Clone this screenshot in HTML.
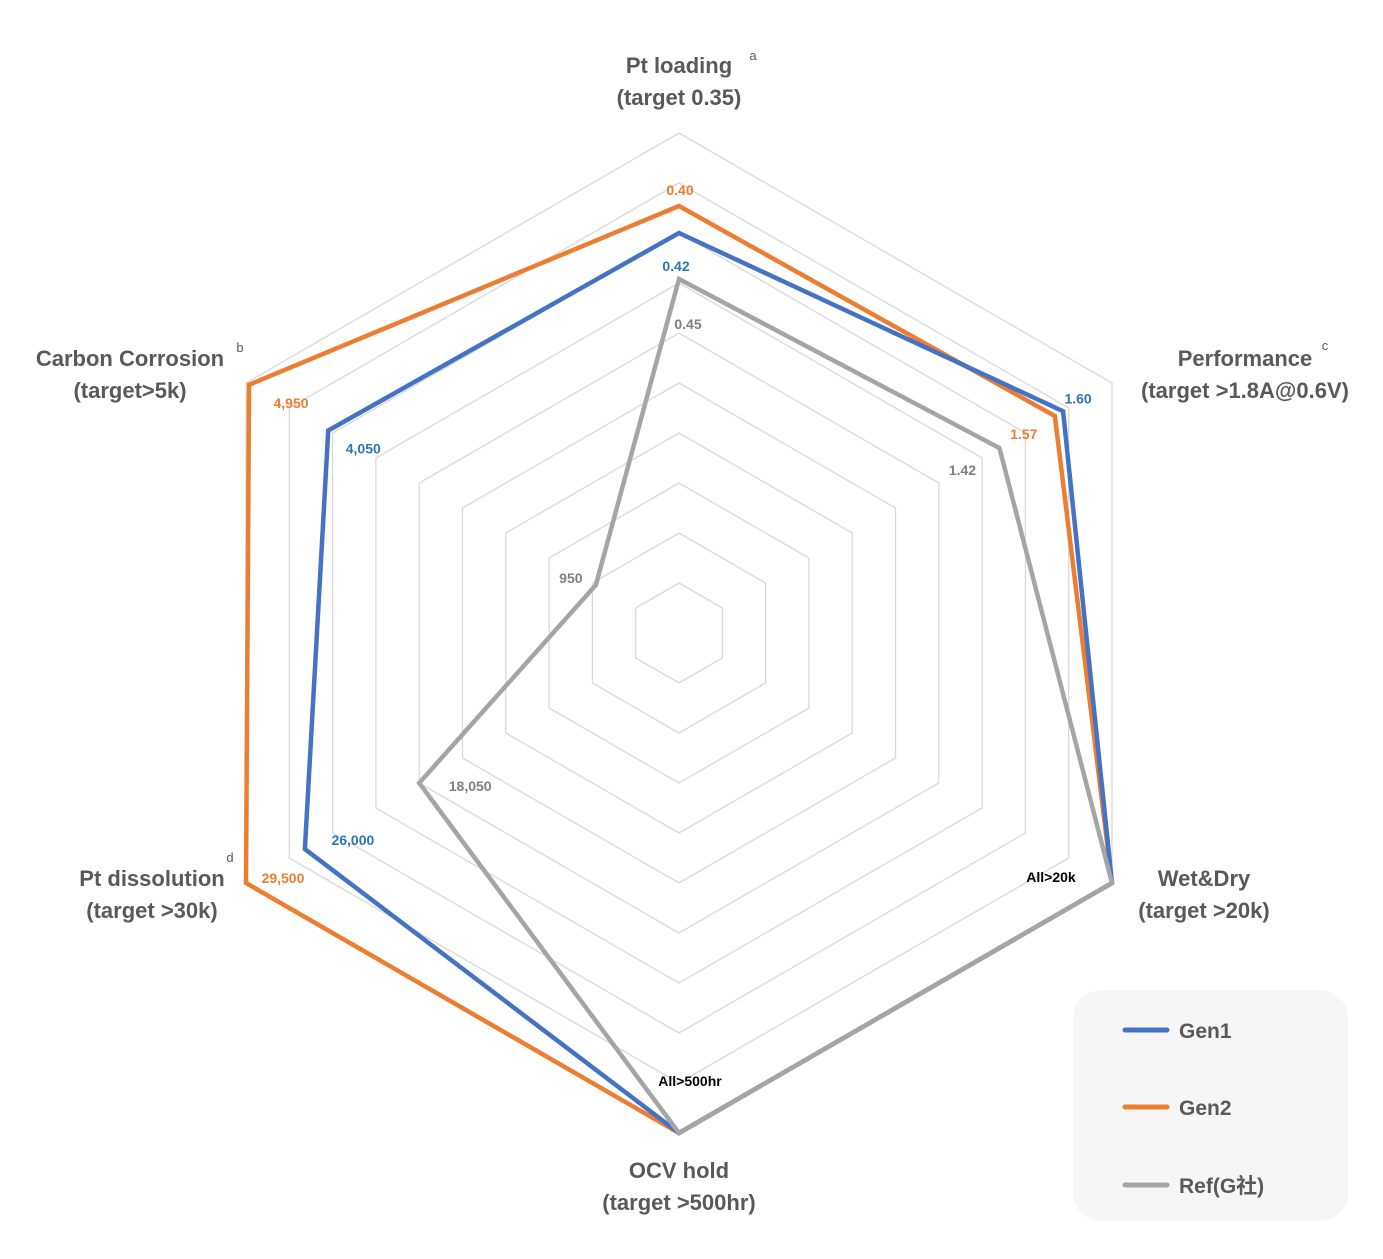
<!DOCTYPE html>
<html><head><meta charset="utf-8"><style>
body{margin:0;background:#fff}
svg{display:block}
text{font-family:"Liberation Sans","Noto Sans CJK SC",sans-serif}
</style></head><body>
<svg id="chart" width="1383" height="1259" xmlns="http://www.w3.org/2000/svg">
<g id="grid"></g>
<g id="series"></g>
<g id="vlabels"></g>
<g font-size="22" font-weight="bold" fill="#595959" text-anchor="middle">
 <text x="679" y="73">Pt loading</text>
 <text x="753" y="60" font-size="13" font-weight="normal">a</text>
 <text x="679" y="105">(target 0.35)</text>
 <text x="1245" y="366">Performance</text>
 <text x="1325" y="350" font-size="13" font-weight="normal">c</text>
 <text x="1245" y="398">(target &gt;1.8A@0.6V)</text>
 <text x="1204" y="886">Wet&amp;Dry</text>
 <text x="1204" y="918">(target &gt;20k)</text>
 <text x="679" y="1178">OCV hold</text>
 <text x="679" y="1210">(target &gt;500hr)</text>
 <text x="152" y="886">Pt dissolution</text>
 <text x="230" y="862" font-size="13" font-weight="normal">d</text>
 <text x="152" y="918">(target &gt;30k)</text>
 <text x="130" y="366">Carbon Corrosion</text>
 <text x="240" y="352" font-size="13" font-weight="normal">b</text>
 <text x="130" y="398">(target&gt;5k)</text>
</g>
<g>
 <rect x="1073" y="990" width="275" height="231" rx="28" fill="#f6f6f6"/>
 <g><line x1="1125" y1="1030" x2="1167" y2="1030" stroke="#4472C4" stroke-width="5" stroke-linecap="round"/><text x="1179" y="1038" font-size="21" font-weight="bold" fill="#595959">Gen1</text></g>
 <g><line x1="1125" y1="1107" x2="1167" y2="1107" stroke="#ED7D31" stroke-width="5" stroke-linecap="round"/><text x="1179" y="1115" font-size="21" font-weight="bold" fill="#595959">Gen2</text></g>
 <g><line x1="1125" y1="1185" x2="1167" y2="1185" stroke="#A5A5A5" stroke-width="5" stroke-linecap="round"/><text x="1179" y="1193" font-size="21" font-weight="bold" fill="#595959">Ref(G社)</text></g>
</g>
</svg>
<script>
const axes = ["Pt loading","Performance","Wet&Dry","OCV hold","Pt dissolution","Carbon Corrosion"];
const gen1 = [8.0, 8.87, 10, 10, 8.64, 8.1];
const gen2 = [8.54, 8.68, 10, 10, 10, 9.93];
const refG = [7.08, 7.4, 10, 10, 6.0, 1.92];
const gen1Labels = ["0.42","1.60","","","26,000","4,050"];
const gen2Labels = ["0.40","1.57","","","29,500","4,950"];
const refLabels = ["0.45","1.42","All>20k","All>500hr","18,050","950"];
const ringCount = 10;
const maxVal = 10;

const NS="http://www.w3.org/2000/svg";
const cx=679, cy=633, R=500;
function ang(i){return -Math.PI/2 + i*Math.PI/3;}
function pt(i,v){const r=v/maxVal*R;return [cx+r*Math.cos(ang(i)), cy+r*Math.sin(ang(i))];}
const grid=document.getElementById('grid');
for(let k=1;k<=ringCount;k++){
  const p=document.createElementNS(NS,'polygon');
  
  
  p.setAttribute('points',axes.map((a,i)=>pt(i,k*maxVal/ringCount).join(',')).join(' '));
  p.setAttribute('fill','none');p.setAttribute('stroke','#d9d9d9');p.setAttribute('stroke-width','1.3');
  grid.appendChild(p);
}
const sg=document.getElementById('series');
const defs=[["gen1",gen1,"#4472C4"],["gen2",gen2,"#ED7D31"],["ref",refG,"#A5A5A5"]];
[defs[1],defs[0],defs[2]].forEach(d=>{
  const p=document.createElementNS(NS,'polygon');
  
  
  p.setAttribute('points',d[1].map((v,i)=>pt(i,v).join(',')).join(' '));
  p.setAttribute('fill','none');p.setAttribute('stroke',d[2]);p.setAttribute('stroke-width','4.5');p.setAttribute('stroke-linejoin','miter');
  sg.appendChild(p);
});
// label offsets (style) per axis for each series
const offs={
 gen1:[[-3,33],[15,-13],[0,0],[0,0],[48,-9],[35,18]],
 gen2:[[1,-16],[-31,18],[0,0],[0,0],[37,-5],[42,18]],
 ref:[[9,45],[-37,22],[-61,-6],[11,-52],[51,3],[-25,-7]]
};
const vg=document.getElementById('vlabels');
[["gen1",gen1,gen1Labels,"#2E75B6"],["gen2",gen2,gen2Labels,"#ED7D31"],["ref",refG,refLabels,"#7F7F7F"]].forEach(d=>{
  d[2].forEach((s,i)=>{
    if(!s) return;
    const [x,y]=pt(i,d[1][i]);
    const t=document.createElementNS(NS,'text');
    
    
    t.setAttribute('x',x+offs[d[0]][i][0]);t.setAttribute('y',y+offs[d[0]][i][1]+5);
    t.setAttribute('text-anchor','middle');t.setAttribute('font-size','14');t.setAttribute('font-weight','bold');
    t.setAttribute('fill',(s.startsWith('All'))?'#000':d[3]);
    t.textContent=s;vg.appendChild(t);
  });
});
</script>
</body></html>
